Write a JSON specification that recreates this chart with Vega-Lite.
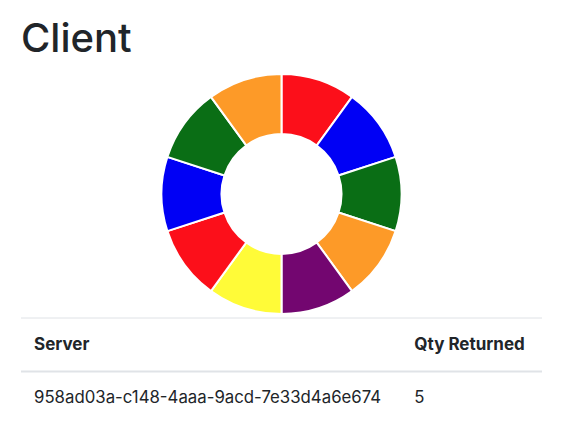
{
  "$schema": "https://vega.github.io/schema/vega-lite/v6.json",
  "padding": {"left": 20, "top": 20, "right": 26, "bottom": 0},
  "background": "white",
  "config": {"view": {"stroke": null}, "font": "Inter"},
  "title": {"text": "Client", "anchor": "start", "fontSize": 40, "fontWeight": 500, "font": "Inter", "color": "#212529", "offset": 10, "frame": "group"},
  "spacing": -3,
  "vconcat": [
    {
      "width": 521,
      "height": 240,
      "data": {"values": [
        {"slice": 1, "value": 1},
        {"slice": 2, "value": 1},
        {"slice": 3, "value": 1},
        {"slice": 4, "value": 1},
        {"slice": 5, "value": 1},
        {"slice": 6, "value": 1},
        {"slice": 7, "value": 1},
        {"slice": 8, "value": 1},
        {"slice": 9, "value": 1},
        {"slice": 10, "value": 1}
      ]},
      "mark": {"type": "arc", "outerRadius": 120, "innerRadius": 60, "stroke": "white", "strokeWidth": 2},
      "encoding": {
        "theta": {"field": "value", "type": "quantitative", "stack": true},
        "order": {"field": "slice", "type": "quantitative"},
        "color": {"field": "slice", "type": "nominal", "legend": null,
          "scale": {"domain": [1,2,3,4,5,6,7,8,9,10],
            "range": ["#fc0f1a", "#0000f5", "#0a6e15", "#fd9a28", "#730670", "#fffb38", "#fc0f1a", "#0000f5", "#0a6e15", "#fd9a28"]}}
      }
    },
    {
      "width": 521,
      "height": 107,
      "layer": [
        {
          "data": {"values": [
            {"pos": 0, "x0": 0, "x1": 1}
          ]},
          "mark": {"type": "rule", "color": "#dfe2e6", "strokeWidth": 1},
          "encoding": {
            "y": {"field": "pos", "type": "quantitative", "scale": {"domain": [0, 4], "reverse": true}, "axis": null},
            "x": {"field": "x0", "type": "quantitative", "scale": {"domain": [0, 1]}, "axis": null},
            "x2": {"field": "x1"}
          }
        },
        {
          "data": {"values": [
            {"pos": 2, "x0": 0, "x1": 1}
          ]},
          "mark": {"type": "rule", "color": "#e0e3e7", "strokeWidth": 2},
          "encoding": {
            "y": {"field": "pos", "type": "quantitative", "scale": {"domain": [0, 4], "reverse": true}, "axis": null},
            "x": {"field": "x0", "type": "quantitative", "scale": {"domain": [0, 1]}, "axis": null},
            "x2": {"field": "x1"}
          }
        },
        {
          "data": {"values": [
            {"pos": 1, "col": 0, "label": "Server", "weight": "header"},
            {"pos": 1, "col": 0.73, "label": "Qty Returned", "weight": "header"},
            {"pos": 3, "col": 0, "label": "958ad03a-c148-4aaa-9acd-7e33d4a6e674", "weight": "body"},
            {"pos": 3, "col": 0.73, "label": "5", "weight": "body"}
          ]},
          "transform": [{"filter": "datum.weight === 'header'"}],
          "mark": {"type": "text", "align": "left", "baseline": "middle", "dx": 13, "fontSize": 17, "fontWeight": 700, "color": "#212529", "font": "Inter"},
          "encoding": {
            "y": {"field": "pos", "type": "quantitative", "scale": {"domain": [0, 4], "reverse": true}, "axis": null},
            "x": {"field": "col", "type": "quantitative", "scale": {"domain": [0, 1]}, "axis": null},
            "text": {"field": "label"}
          }
        },
        {
          "data": {"values": [
            {"pos": 1, "col": 0, "label": "Server", "weight": "header"},
            {"pos": 1, "col": 0.73, "label": "Qty Returned", "weight": "header"},
            {"pos": 3, "col": 0, "label": "958ad03a-c148-4aaa-9acd-7e33d4a6e674", "weight": "body"},
            {"pos": 3, "col": 0.73, "label": "5", "weight": "body"}
          ]},
          "transform": [{"filter": "datum.weight === 'body'"}],
          "mark": {"type": "text", "align": "left", "baseline": "middle", "dx": 13, "fontSize": 16.8, "fontWeight": 400, "color": "#212529", "font": "Inter"},
          "encoding": {
            "y": {"field": "pos", "type": "quantitative", "scale": {"domain": [0, 4], "reverse": true}, "axis": null},
            "x": {"field": "col", "type": "quantitative", "scale": {"domain": [0, 1]}, "axis": null},
            "text": {"field": "label"}
          }
        }
      ]
    }
  ]
}
